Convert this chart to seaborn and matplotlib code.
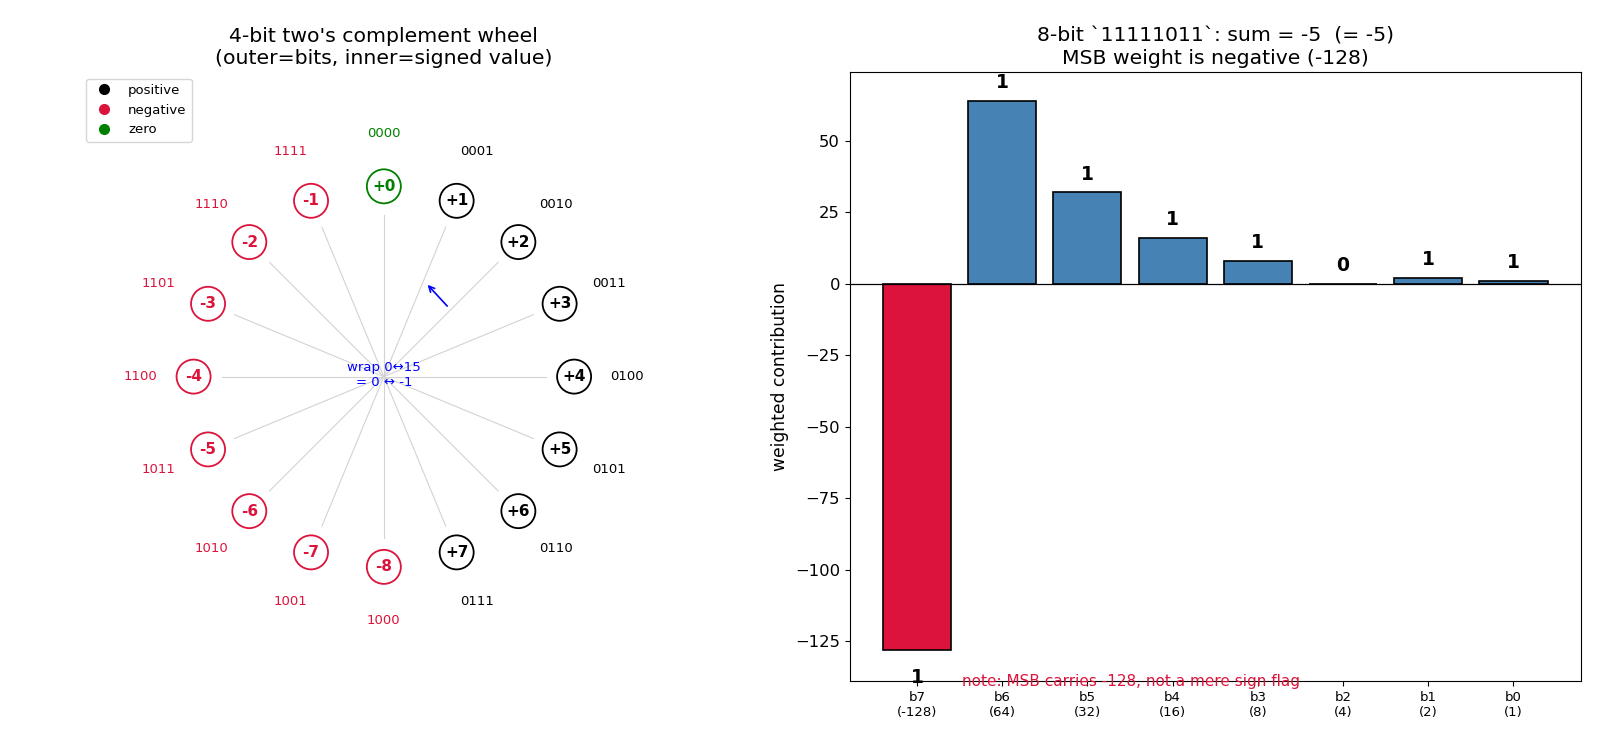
import numpy as np
import pandas as pd
import seaborn as sns
import matplotlib.pyplot as plt
from matplotlib.lines import Line2D

# 4-bit wheel: bit patterns and their signed meaning (clockwise from top)
wheel_bits = ['0000', '0001', '0010', '0011', '0100', '0101', '0110', '0111',
              '1000', '1001', '1010', '1011', '1100', '1101', '1110', '1111']
wheel_values = [0, 1, 2, 3, 4, 5, 6, 7, -8, -7, -6, -5, -4, -3, -2, -1]

# 8-bit example 11111011
bit_names = ['b7', 'b6', 'b5', 'b4', 'b3', 'b2', 'b1', 'b0']
bit_weights = [-128, 64, 32, 16, 8, 4, 2, 1]
bit_values = [1, 1, 1, 1, 1, 0, 1, 1]


def sign_color(v):
    if v > 0:
        return 'black'
    if v < 0:
        return 'crimson'
    return 'green'


fig = plt.figure(figsize=(16, 7.38), dpi=100)
ax1 = fig.add_axes([0.0494, 0.0772, 0.381, 0.825])
ax2 = fig.add_axes([0.531, 0.0772, 0.457, 0.825])

# ---- left: the wheel
theta = np.deg2rad(90 - 22.5 * np.arange(len(wheel_bits)))
cols = [sign_color(v) for v in wheel_values]
for t in theta:
    ax1.plot([0, 0.85 * np.cos(t)], [0, 0.85 * np.sin(t)], color='lightgray', lw=0.8, zorder=1)

ax1.scatter(np.cos(theta), np.sin(theta), s=600, facecolors='white', edgecolors=cols,
            linewidths=1.3, zorder=3)
for t, v, b, c in zip(theta, wheel_values, wheel_bits, cols):
    ax1.text(np.cos(t), np.sin(t), f'{v:+d}', ha='center', va='center', fontsize=11,
             fontweight='bold', color=c, zorder=4)
    ax1.text(1.28 * np.cos(t), 1.28 * np.sin(t), b, ha='center', va='center',
             fontsize=9.5, color=c)

ax1.annotate('', xy=(0.22, 0.493), xytext=(0.343, 0.36),
             arrowprops=dict(arrowstyle='->', color='blue', lw=1.2))
ax1.text(0, 0.01, 'wrap 0\u219415\n= 0 \u2194 -1', ha='center', va='center',
         fontsize=9.5, color='blue')

handles = [Line2D([], [], marker='o', ls='', color=c, markersize=7, label=l)
           for c, l in [('black', 'positive'), ('crimson', 'negative'), ('green', 'zero')]]
ax1.legend(handles=handles, loc='upper left', fontsize=9.5)
ax1.set_xlim(-1.6, 1.6)
ax1.set_ylim(-1.6, 1.6)
ax1.set_aspect('equal')
ax1.axis('off')
ax1.set_title("4-bit two's complement wheel\n(outer=bits, inner=signed value)", fontsize=14.7)

# ---- right: weighted bit contributions
df = pd.DataFrame({'bit': bit_names,
                   'contribution': [w * b for w, b in zip(bit_weights, bit_values)]})
bar_colors = ['crimson' if w < 0 else 'steelblue' for w in bit_weights]
sns.barplot(data=df, x='bit', y='contribution', hue='bit', palette=bar_colors,
            saturation=1, edgecolor='black', linewidth=1.2, width=0.8, legend=False, ax=ax2)
ax2.axhline(0, color='black', lw=0.9)

for i, (c, b) in enumerate(zip(df['contribution'], bit_values)):
    if c >= 0:
        ax2.text(i, c + 3, str(b), ha='center', va='bottom', fontsize=13.5, fontweight='bold')
    else:
        ax2.text(i, c - 6.5, str(b), ha='center', va='top', fontsize=13.5, fontweight='bold')

ax2.set_xticks(range(len(bit_names)))
ax2.set_xticklabels([f'{n}\n({w})' for n, w in zip(bit_names, bit_weights)], fontsize=9.5)
ax2.tick_params(axis='y', labelsize=11.8)
ax2.set_xlabel('')
ax2.set_ylabel('weighted contribution', fontsize=12.3)
ax2.set_xlim(-0.79, 7.79)
ax2.set_ylim(-139, 74)
ax2.set_title("8-bit `11111011`: sum = -5  (= -5)\nMSB weight is negative (-128)", fontsize=14.7)
ax2.text(0.385, 0.0, 'note: MSB carries -128, not a mere sign flag', transform=ax2.transAxes,
         ha='center', va='center', color='crimson', fontsize=11)

fig.savefig('out.png', dpi=100)
